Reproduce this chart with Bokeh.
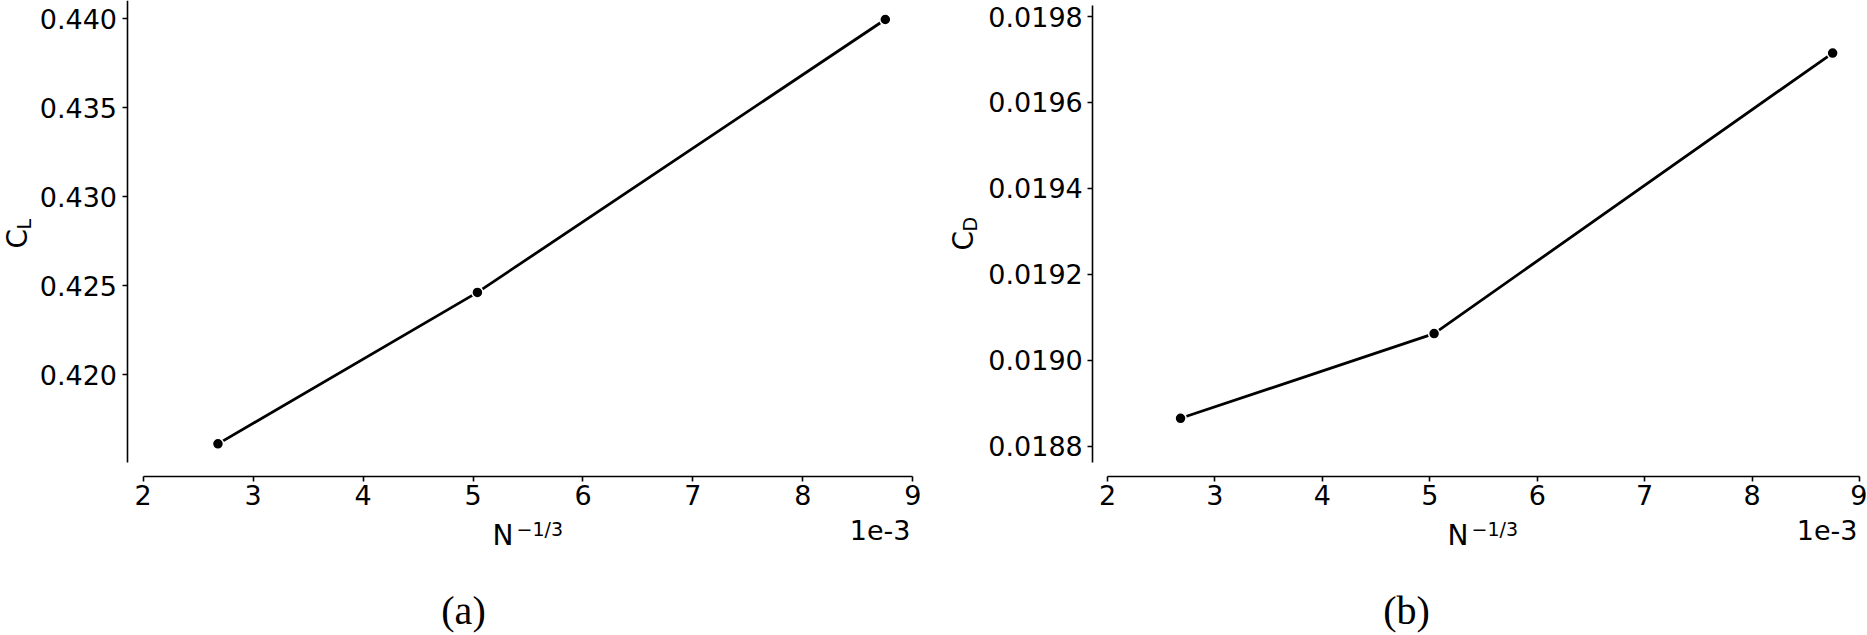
import numpy as np
from bokeh.plotting import figure
from bokeh.models import Label, FixedTicker, PrintfTickFormatter, Range1d, ColumnDataSource
from bokeh.layouts import row
from bokeh.embed import file_html
from bokeh.resources import INLINE

# ---------------- data ----------------
# x values are N^(-1/3) in units of 1e-3
x_vals = [2.68, 5.04, 8.75]
cl_vals = [0.41612, 0.42463, 0.43996]
cd_vals = [0.018865, 0.019062, 0.019715]

x_ticks = [2, 3, 4, 5, 6, 7, 8, 9]
cl_ticks = [0.420, 0.425, 0.430, 0.435, 0.440]
cd_ticks = [0.0188, 0.0190, 0.0192, 0.0194, 0.0196, 0.0198]

x_label_main = "N"
x_label_sup = "\u22121/3"
offset_text = "1e-3"
y_label_main = "C"
y_subs = ["L", "D"]
captions = ["(a)", "(b)"]

SANS = "DejaVu Sans"
SERIF = "Liberation Serif"


def make_panel(xs, ys, yticks, yfmt, sub, caption, g):
    # linear maps figure-pixel -> data, from two reference ticks
    def xd(fx):
        return g["xv"][0] + (fx - g["xp"][0]) * (g["xv"][1] - g["xv"][0]) / (g["xp"][1] - g["xp"][0])

    def yd(fy):
        return g["yv"][0] + (fy - g["yp"][0]) * (g["yv"][1] - g["yv"][0]) / (g["yp"][1] - g["yp"][0])

    W, H = g["fig_w"], g["fig_h"]
    p = figure(
        frame_width=W, frame_height=H,
        min_border_left=0, min_border_top=0, min_border_right=0, min_border_bottom=0,
        x_range=Range1d(xd(0), xd(W)),
        y_range=Range1d(yd(H), yd(0)),
        output_backend="svg", toolbar_location=None,
        background_fill_color="white", border_fill_color="white",
    )
    p.outline_line_color = None
    p.xgrid.visible = False
    p.ygrid.visible = False

    for ax in (p.xaxis[0], p.yaxis[0]):
        ax.axis_line_color = "black"
        ax.axis_line_width = 1.6
        ax.major_tick_line_color = "black"
        ax.major_tick_line_width = 1.6
        ax.major_tick_out = 5
        ax.major_tick_in = 0
        ax.minor_tick_line_color = None
        ax.major_label_text_font = SANS
        ax.major_label_text_font_size = "27px"
        ax.major_label_text_color = "black"

    # offset ("despined") axes drawn at fixed positions inside the canvas
    p.xaxis.ticker = FixedTicker(ticks=x_ticks)
    p.xaxis.bounds = (x_ticks[0], x_ticks[-1])
    p.xaxis.fixed_location = yd(g["xspine_y"])
    p.xaxis.major_label_standoff = 3
    p.yaxis.ticker = FixedTicker(ticks=yticks)
    p.yaxis.formatter = PrintfTickFormatter(format=yfmt)
    p.yaxis.bounds = (yd(g["yspine_bottom"]), yd(g["yspine_top"]))
    p.yaxis.fixed_location = xd(g["yspine_x"])
    p.yaxis.major_label_standoff = 5

    src = ColumnDataSource(dict(x=xs, y=ys))
    p.line("x", "y", source=src, line_color="black", line_width=2.8)
    p.scatter("x", "y", source=src, size=11, fill_color="black",
              line_color="white", line_width=1.5)

    def lab(text, fx, fy, size, align="left", font=SANS, angle=0.0):
        p.add_layout(Label(x=xd(fx), y=yd(fy), text=text, text_font=font,
                           text_font_size=size, text_align=align,
                           text_baseline="middle", angle=angle,
                           text_color="black"))

    # x label N^{-1/3}
    lab(x_label_main, g["n_right"], g["n_mid"], "28px", align="right")
    lab(x_label_sup, g["n_right"] + 3, g["n_mid"] - 7, "19px")
    # offset text
    lab(offset_text, g["off_right"], g["off_mid"], "27px", align="right")
    # y label C_sub (rotated)
    lab(y_label_main, g["c_mid"], g["c_start"], "28px", angle=np.pi / 2)
    lab(sub, g["c_mid"] + 6, g["c_start"] - 19, "19px", angle=np.pi / 2)
    # caption
    lab(caption, g["cap_x"], g["cap_mid"], "40px", align="center", font=SERIF)
    return p


geo_left = dict(
    fig_w=933, fig_h=635,
    xp=(142.7, 912.3), xv=(x_ticks[0], x_ticks[-1]),
    yp=(18.3, 374.3), yv=(cl_ticks[-1], cl_ticks[0]),
    xspine_y=476.3, yspine_x=126.5, yspine_bottom=461.7, yspine_top=0,
    n_right=513, n_mid=535, off_right=910, off_mid=529,
    c_mid=17, c_start=248, cap_x=463, cap_mid=610,
)
geo_right = dict(
    fig_w=934, fig_h=635,
    xp=(174.0, 926.0), xv=(x_ticks[0], x_ticks[-1]),
    yp=(16.0, 445.7), yv=(cd_ticks[-1], cd_ticks[0]),
    xspine_y=476.3, yspine_x=159.3, yspine_bottom=461.7, yspine_top=5,
    n_right=535, n_mid=535, off_right=924, off_mid=529,
    c_mid=30, c_start=250, cap_x=473, cap_mid=610,
)

p1 = make_panel(x_vals, cl_vals, cl_ticks, "%.3f", y_subs[0], captions[0], geo_left)
p2 = make_panel(x_vals, cd_vals, cd_ticks, "%.4f", y_subs[1], captions[1], geo_right)

layout = row(p1, p2)
open("out.html", "w").write(file_html(layout, INLINE))
